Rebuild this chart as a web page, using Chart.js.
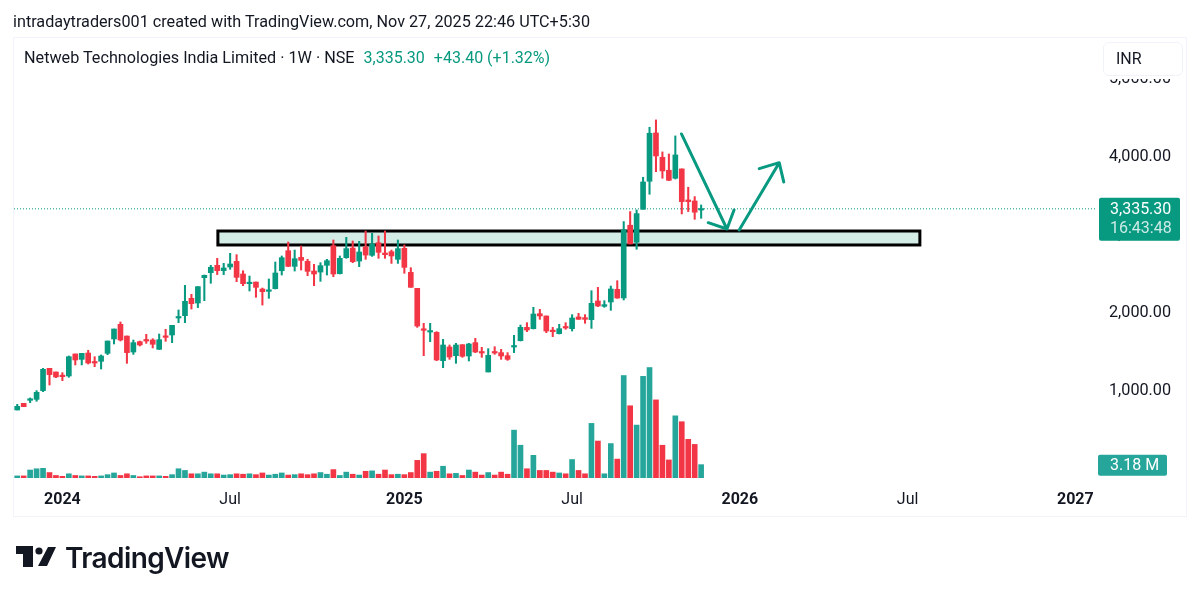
<!DOCTYPE html>
<html>
<head>
<meta charset="utf-8">
<title>Netweb Technologies India Limited</title>
<script src="https://cdn.jsdelivr.net/npm/chart.js@4"></script>
<style>
  html, body { margin: 0; padding: 0; background: #fff; }
  body { width: 1200px; height: 598px; position: relative; overflow: hidden; font-family: Roboto, sans-serif; color: #131722; }
  #frame { position: absolute; left: 13px; top: 37px; width: 1172px; height: 478px; border: 1px solid #f0f3fa; }
  canvas { position: absolute; left: 0; top: 0; }
  #created { position: absolute; left: 13px; top: 12px; font-size: 16.2px; line-height: 20px; white-space: nowrap; }
  #title { position: absolute; left: 24px; top: 48px; font-size: 16.2px; line-height: 20px; white-space: nowrap; }
  #title span { color: #089981; margin-left: 5px; font-size: 16px; }
  #inr { position: absolute; left: 1103px; top: 42px; width: 66px; height: 32px; padding-left: 12px; line-height: 32px; font-size: 16px; background: #fff; border: 1px solid #f0f3fa; border-radius: 6px; box-shadow: 0 3px 0 #fff; }
  #logo { position: absolute; left: 16px; top: 546px; }
  #brand { position: absolute; left: 65px; top: 541px; font-family: Inter, sans-serif; font-weight: 600; font-size: 28px; line-height: 34px; letter-spacing: -0.6px; color: #131722; }
</style>
</head>
<body>
<div id="frame"></div>
<canvas id="chart" width="1200" height="598"></canvas>
<div id="created">intradaytraders001 created with TradingView.com, Nov 27, 2025 22:46 UTC+5:30</div>
<div id="title">Netweb Technologies India Limited · 1W · NSE <span>3,335.30</span> <span>+43.40 (+1.32%)</span></div>
<div id="inr">INR</div>
<svg id="logo" width="42" height="22" viewBox="0 0 42 22">
  <path d="M0 0H17V21H7V8H0Z M40 1L31 20H22L32 1Z" fill="#131722"/>
  <circle cx="23" cy="5" r="3.6" fill="#131722"/>
</svg>
<div id="brand">TradingView</div>

<script>
// weekly candles
const opens = [757,842,881,893,1005,1291,1244,1193,1193,1475,1406,1487,1372,1381,1483,1667,1855,1705,1500,1633,1654,1654,1534,1697,1718,1936,1966,2188,2128,2453,2517,2611,2543,
  2590,2662,2500,2376,2397,2307,2278,2312,2542,2799,2598,2713,2662,2538,2525,2611,2863,2504,2709,2833,2666,2846,2739,2901,2769,2786,2688,
  2829,2521,2316,1795,1756,1752,1389,1564,1453,1594,1449,1620,1500,1244,1496,1492,1453,1564,1645,1816,1799,1991,1962,1774,1735,1816,1799,1949,1940,1915,2154,2086,2141,2303,
  2193,3125,2907,3330,3689,4308,3996,3830,3727,3847,3449,3436,3320];
const highs = [829,842,911,1005,1291,1291,1244,1235,1449,1475,1483,1522,1440,1462,1641,1795,1885,1705,1654,1641,1727,1671,1731,1791,1842,2039,2355,2240,2338,2487,2611,2701,2637,
  2765,2748,2542,2474,2397,2320,2436,2654,2731,2910,2807,2859,2688,2624,2645,2688,2936,2731,2970,2923,2919,3051,3021,2987,3051,2807,2936,
  2872,2581,2316,1868,1868,1761,1662,1590,1611,1594,1611,1675,1560,1543,1568,1534,1492,1714,1846,1876,2073,2047,1962,1816,1855,1876,1979,1996,1979,2286,2329,2158,2346,2414,
  3172,3300,3321,3740,4381,4475,4065,4039,4270,3847,3612,3492,3385];
const lows = [757,799,851,868,992,1077,1171,1133,1176,1334,1334,1346,1312,1282,1466,1603,1641,1355,1470,1577,1611,1552,1534,1637,1620,1876,1876,2051,2069,2158,2381,2492,2492,
  2560,2402,2350,2282,2201,2102,2188,2308,2487,2594,2538,2551,2478,2350,2406,2487,2466,2500,2701,2645,2594,2688,2726,2701,2701,2636,2636,
  2509,2329,1816,1453,1633,1389,1299,1406,1355,1432,1385,1492,1432,1244,1470,1406,1393,1492,1641,1761,1795,1919,1748,1697,1731,1791,1769,1919,1868,1803,2081,2073,2034,2188,
  2167,2885,2817,3330,3522,3812,3727,3697,3718,3270,3300,3201,3214];
const closes = [804,799,889,983,1278,1210,1180,1184,1440,1398,1483,1359,1359,1449,1641,1795,1654,1492,1620,1590,1641,1599,1658,1688,1842,1945,2150,2120,2338,2483,2586,2543,2577,
  2628,2457,2376,2384,2329,2273,2295,2513,2709,2598,2696,2675,2534,2500,2607,2671,2500,2701,2825,2658,2782,2743,2884,2778,2748,2731,2825,
  2585,2329,1833,1778,1774,1398,1590,1436,1590,1445,1603,1500,1487,1457,1487,1449,1406,1577,1816,1782,1987,1962,1769,1761,1799,1808,1936,1919,1919,2124,2090,2107,2308,2192,
  3065,2885,3274,3680,4304,4013,3821,3701,4026,3428,3428,3292,3335.3];
// volume in millions
const volumes = [0.5,0.5,1.9,2.2,2.3,1.3,0.6,0.4,1.0,0.6,0.5,0.5,0.4,0.5,0.8,1.2,0.6,1.0,0.6,0.3,0.5,0.5,0.5,0.4,0.8,2.2,1.8,1.0,1.0,1.4,1.0,1.0,0.7,
  0.8,1.0,0.9,1.0,0.8,1.2,0.7,0.9,1.2,0.7,0.8,1.0,0.8,1.0,1.3,0.9,2.0,0.6,1.4,0.9,0.7,1.6,1.7,0.9,1.9,0.8,0.9,
  0.8,1.3,4.2,5.8,1.4,1.6,2.8,1.0,1.1,0.6,1.9,1.4,0.7,1.3,0.7,1.4,0.9,11.4,7.8,2.2,5.4,1.8,1.8,1.4,1.2,1.0,4.4,1.8,1.0,13.0,8.8,1.0,8.2,4.5,
  24.4,17.2,12.6,24.2,26.3,18.6,7.8,4.3,14.8,13.4,9.2,8.0,3.18];

const priceTicks = [1000, 2000, 3000, 4000, 5000];
const timeTicks = [7, 33, 60, 86, 112, 138, 164];
const timeLabels = ["2024", "Jul", "2025", "Jul", "2026", "Jul", "2027"];
const boldLabels = ["2024", "2025", "2026", "2027"];

const lastPrice = 3335.3;
const lastVolume = 3.18;
const zoneWeeks = [31.1, 139.9];
const zonePrices = [2872, 3051];
const arrowDownWeeks = [102.95, 110, 107.1, 110, 111.1];
const arrowDownPrices = [4295, 3077, 3158, 3077, 3321];
const arrowUpWeeks = [111.9, 118.1, 115, 118.1, 118.8];
const arrowUpPrices = [3064, 3927, 3850, 3927, 3680];

const GREEN = "#089981";
const RED = "#f23645";
const VOL_GREEN = "#26a69a";

const upOrDown = (up, down) => closes.map((c, i) => c >= opens[i] ? up : down);
const points = (xs, ys) => xs.map((x, i) => ({ x: x, y: ys[i] }));

const zonePlugin = {
  id: "zone",
  beforeDatasetsDraw(chart) {
    const { x, y } = chart.scales;
    const ctx = chart.ctx;
    const left = x.getPixelForValue(zoneWeeks[0]);
    const right = x.getPixelForValue(zoneWeeks[1]);
    const top = y.getPixelForValue(zonePrices[1]);
    const bottom = y.getPixelForValue(zonePrices[0]);
    ctx.save();
    ctx.fillStyle = "#d3ece6";
    ctx.strokeStyle = "#000";
    ctx.lineWidth = 3;
    ctx.fillRect(left, top, right - left, bottom - top);
    ctx.strokeRect(left, top, right - left, bottom - top);
    ctx.restore();
  }
};

const tagsPlugin = {
  id: "tags",
  afterDraw(chart) {
    const ctx = chart.ctx;
    const priceY = chart.scales.y.getPixelForValue(lastPrice);
    const volY = chart.scales.y2.getPixelForValue(lastVolume);
    ctx.save();
    ctx.fillStyle = GREEN;
    ctx.beginPath();
    ctx.roundRect(1099, priceY - 11, 81, 43, 2);
    ctx.fill();
    ctx.fillStyle = VOL_GREEN;
    ctx.beginPath();
    ctx.roundRect(1098, volY - 10, 69, 21, 2);
    ctx.fill();
    ctx.font = "16px Roboto";
    ctx.textAlign = "left";
    ctx.textBaseline = "middle";
    ctx.fillStyle = "#fff";
    ctx.fillText("3,335.30", 1110, priceY + 1);
    ctx.fillText("3.18 M", 1110, volY + 1);
    ctx.fillStyle = "#cdebe6";
    ctx.fillText("16:43:48", 1110, priceY + 20);
    ctx.restore();
  }
};

new Chart(document.getElementById("chart"), {
  type: "bar",
  data: {
    datasets: [
      {
        type: "line", order: 0, data: points(arrowDownWeeks, arrowDownPrices),
        borderColor: GREEN, borderWidth: 3, pointRadius: 0, borderCapStyle: "round", borderJoinStyle: "round", tension: 0
      },
      {
        type: "line", order: 0, data: points(arrowUpWeeks, arrowUpPrices),
        borderColor: GREEN, borderWidth: 3, pointRadius: 0, borderCapStyle: "round", borderJoinStyle: "round", tension: 0
      },
      {
        order: 1, data: opens.map((o, i) => ({ x: i, y: [o, closes[i]] })),
        backgroundColor: upOrDown(GREEN, RED), barThickness: 5, minBarLength: 1.5
      },
      {
        order: 2, data: lows.map((l, i) => ({ x: i, y: [l, highs[i]] })),
        backgroundColor: upOrDown(GREEN, RED), barThickness: 1.4
      },
      {
        order: 3, yAxisID: "y2", data: volumes.map((v, i) => ({ x: i, y: v })),
        backgroundColor: upOrDown(VOL_GREEN, RED), barThickness: 5
      },
      {
        type: "line", order: 4, data: [{ x: -0.5, y: lastPrice }, { x: 167.2, y: lastPrice }],
        borderColor: GREEN, borderWidth: 1, borderDash: [1, 2], pointRadius: 0
      }
    ]
  },
  options: {
    responsive: false,
    animation: false,
    layout: { padding: { left: 14, top: 37, right: 14, bottom: 82 } },
    plugins: { legend: { display: false }, tooltip: { enabled: false } },
    datasets: { bar: { grouped: false } },
    scales: {
      x: {
        type: "linear",
        min: -0.5,
        max: 167.2,
        offset: false,
        grid: { display: false },
        border: { display: false },
        afterFit: scale => { scale.height = 38; },
        afterBuildTicks: scale => { scale.ticks = timeTicks.map(v => ({ value: v })); },
        ticks: {
          autoSkip: false,
          maxRotation: 0,
          padding: 4,
          color: "#131722",
          callback: value => timeLabels[timeTicks.indexOf(value)],
          font: ctx => ({
            family: "Roboto",
            size: 16,
            weight: boldLabels.includes(timeLabels[ctx.index]) ? "bold" : "normal"
          })
        }
      },
      y: {
        position: "right",
        min: -115,
        max: 5538,
        grid: { display: false },
        border: { display: false },
        afterFit: scale => { scale.width = 90; },
        afterBuildTicks: scale => { scale.ticks = priceTicks.map(v => ({ value: v })); },
        ticks: {
          padding: 5,
          crossAlign: "near",
          color: "#131722",
          font: { family: "Roboto", size: 16.2 },
          callback: value => value.toLocaleString("en-US", { minimumFractionDigits: 2 })
        }
      },
      y2: { display: false, min: 0, max: 105 }
    }
  },
  plugins: [zonePlugin, tagsPlugin]
});
</script>
</body>
</html>
